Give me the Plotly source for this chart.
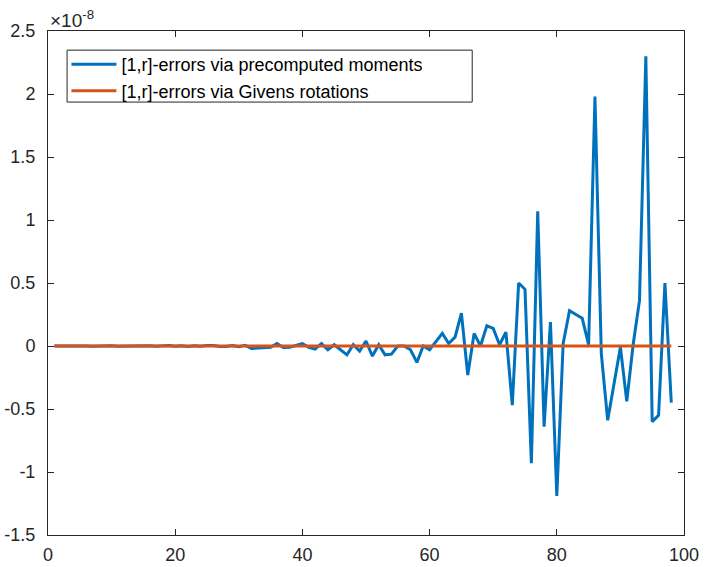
import plotly.graph_objects as go

# errors, in units of 1e-8 (the axis carries the x10^-8 factor)
r = list(range(1, 99))

err_moments = [
    0.000, 0.001, -0.001, 0.000, 0.001, 0.000, -0.001, 0.001, 0.000, 0.001,
    -0.001, 0.000, 0.001, -0.001, 0.000, 0.002, -0.001, 0.001, 0.003, -0.002,
    0.002, -0.003, 0.001, -0.002, 0.004, 0.003, -0.004, -0.003, 0.004, -0.006,
    0.005, -0.020, -0.015, -0.012, -0.010, 0.020, -0.012, -0.010, 0.005, 0.018,
    -0.010, -0.025, 0.020, -0.030, 0.010, -0.030, -0.070, 0.010, -0.040, 0.040,
    -0.080, 0.010, -0.070, -0.065, 0.000, 0.000, -0.030, -0.130, 0.000, -0.030,
    0.040, 0.100, 0.020, 0.070, 0.260, -0.230, 0.100, 0.000, 0.160, 0.140,
    0.010, 0.110, -0.470, 0.500, 0.450, -0.930, 1.070, -0.640, 0.190, -1.190,
    0.020, 0.280, 0.250, 0.220, 0.010, 1.980, -0.060, -0.590, -0.300, -0.010,
    -0.440, 0.010, 0.360, 2.300, -0.600, -0.550, 0.500, -0.450,
]

# Givens rotations: errors far below the 1e-8 scale
err_givens = [
    0.0, 0.0, 0.0, 0.0, 0.0, 0.0, 0.0, 0.0, 0.0, 0.0,
    0.0, 0.0, 0.0, 0.0, 0.0, 0.0, 0.0, 0.0, 0.0, 0.0,
    0.0, 0.0, 0.0, 0.0, 0.0, 0.0, 0.0, 0.0, 0.0, 0.0,
    0.0, 0.0, 0.0, 0.0, 0.0, 0.0, 0.0, 0.0, 0.0, 0.0,
    0.0, 0.0, 0.0, 0.0, 0.0, 0.0, 0.0, 0.0, 0.0, 0.0,
    0.0, 0.0, 0.0, 0.0, 0.0, 0.0, 0.0, 0.0, 0.0, 0.0,
    0.0, 0.0, 0.0, 0.0, 0.0, 0.0, 0.0, 0.0, 0.0, 0.0,
    0.0, 0.0, 0.0, 0.0, 0.0, 0.0, 0.0, 0.0, 0.0, 0.0,
    0.0, 0.0, 0.0, 0.0, 0.0, 0.0, 0.0, 0.0, 0.0, 0.0,
    0.0, 0.0, 0.0, 0.0, 0.0, 0.0, 0.0, 0.0,
]

x_ticks = [0, 20, 40, 60, 80, 100]
y_ticks = [-1.5, -1, -0.5, 0, 0.5, 1, 1.5, 2, 2.5]
y_labels = ["-1.5", "-1", "-0.5", "0", "0.5", "1", "1.5", "2", "2.5"]

FONT = "Liberation Sans, Arial, sans-serif"
AX = "#262626"

fig = go.Figure()
fig.add_trace(go.Scatter(
    x=r, y=err_moments, mode="lines",
    line=dict(color="#0072BD", width=3),
    name="[1,r]-errors via precomputed moments"
))
fig.add_trace(go.Scatter(
    x=r, y=err_givens, mode="lines",
    line=dict(color="#D95319", width=3),
    name="[1,r]-errors via Givens rotations"
))

axis_common = dict(
    showgrid=False, zeroline=False, automargin=False,
    showline=True, linecolor=AX, linewidth=1, mirror="ticks",
    ticks="inside", ticklen=6, tickcolor=AX,
    tickfont=dict(family=FONT, size=18, color=AX),
)

fig.update_xaxes(range=[0, 100], tickvals=x_ticks, ticklabelstandoff=3, **axis_common)
fig.update_yaxes(range=[-1.5, 2.5], tickvals=y_ticks, ticktext=y_labels,
                 ticklabelstandoff=8, **axis_common)

fig.add_annotation(
    text="×10<sup>-8</sup>", xref="paper", yref="paper", x=0, y=1,
    xanchor="left", yanchor="bottom", showarrow=False,
    font=dict(family=FONT, size=19, color=AX), yshift=-2
)

# legend frame, MATLAB style (wider than the entries)
fig.add_shape(
    type="rect", xref="paper", yref="paper",
    x0=0.030, x1=0.667, y0=0.859, y1=0.962,
    line=dict(color=AX, width=1), fillcolor="white", layer="above"
)

fig.update_layout(
    width=706, height=567,
    margin=dict(l=48, r=22, t=31, b=32),
    paper_bgcolor="white", plot_bgcolor="white",
    font=dict(family=FONT, color=AX),
    showlegend=True,
    legend=dict(
        x=0.029, y=0.970, xanchor="left", yanchor="top",
        bgcolor="rgba(0,0,0,0)", borderwidth=0, itemwidth=45,
        font=dict(family=FONT, size=18, color="#000000"),
        tracegroupgap=0,
    ),
)

fig.write_html("out.html", config={"displayModeBar": False},
               post_script="document.body.style.margin='0';")
